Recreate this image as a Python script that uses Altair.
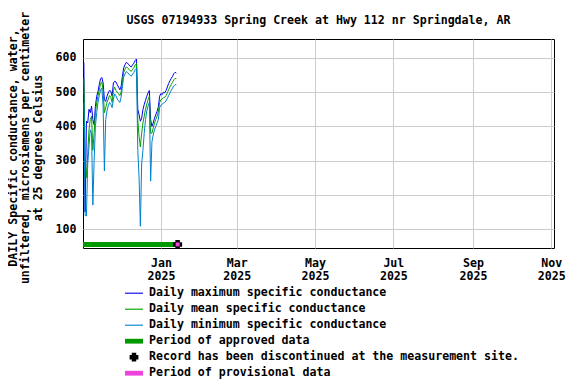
import altair as alt
import pandas as pd

FONT = "DejaVu Sans Mono"
FS = 11.6

# ---- data ----
dates = list(pd.date_range("2024-11-02", periods=73, freq="D").strftime("%Y-%m-%dT00:00:00Z"))

max_vals = [587, 150, 415, 410, 450, 440, 459, 420, 405, 459, 488,
            502, 522, 539, 543,
            527, 478, 473, 488, 498, 505, 503, 488, 527, 532, 530, 522, 515, 507, 517,
            546, 571, 580, 587, 585, 580, 576, 574, 580, 585, 593, 597,
            450, 434, 415, 424, 449, 464, 476, 488, 498, 505,
            420, 400, 410, 424, 434, 444, 457,
            488, 496, 493, 500, 498, 505, 515, 525, 533, 540, 546, 554, 558, 556]
mean_vals = [540, 300, 250, 320, 390, 420, 430, 330, 380, 440, 470,
             488, 507, 525, 530,
             505, 440, 455, 470, 480, 490, 485, 470, 505, 515, 505, 500, 495, 490, 500,
             530, 558, 567, 574, 572, 567, 563, 561, 567, 572, 580, 584,
             420, 370, 340, 380, 410, 430, 450, 465, 478, 488,
             380, 380, 395, 410, 420, 430, 442,
             470, 478, 480, 484, 485, 490, 498, 507, 515, 522, 529, 536, 540, 540]
min_vals = [470, 140, 138, 290, 340, 390, 380, 170, 300, 400, 440,
            470, 490, 507, 512,
            460, 270, 420, 445, 460, 470, 465, 455, 480, 495, 490, 480, 475, 470, 485,
            515, 544, 553, 560, 558, 553, 549, 547, 553, 558, 566, 570,
            330, 250, 108, 290, 330, 380, 420, 445, 460, 470,
            240, 355, 375, 390, 400, 410, 420,
            455, 462, 465, 468, 470, 475, 482, 490, 497, 505, 512, 518, 522, 522]

approved_start = ["2024-11-01T00:00:00Z"]
approved_end = ["2025-01-13T12:00:00Z"]
discontinued_date = ["2025-01-14T00:00:00Z"]
marker_level = [55]

title_text = "USGS 07194933 Spring Creek at Hwy 112 nr Springdale, AR"
series_names = [
    "Daily maximum specific conductance",
    "Daily mean specific conductance",
    "Daily minimum specific conductance",
    "Period of approved data",
    "Record has been discontinued at the measurement site.",
    "Period of provisional data",
]
series_colors = ["#0000ee", "#00a000", "#0080d0", "#009900", "#000000", "#ee44dd"]
line_sym = "M-1.125,-0.07L1.125,-0.07L1.125,0.07L-1.125,0.07Z"
bar_sym = "M-1.125,-0.3L1.125,-0.3L1.125,0.3L-1.125,0.3Z"
plus_sym = ("M-0.28,-0.55L0.28,-0.55L0.28,-0.28L0.55,-0.28L0.55,0.28L0.28,0.28L0.28,0.55"
            "L-0.28,0.55L-0.28,0.28L-0.55,0.28L-0.55,-0.28L-0.28,-0.28Z")
legend_shapes = [line_sym, line_sym, line_sym, bar_sym, plus_sym, bar_sym]
marker_plus = ("M-0.5,-1L0.5,-1L0.5,-0.5L1,-0.5L1,0.5L0.5,0.5L0.5,1L-0.5,1L-0.5,0.5"
               "L-1,0.5L-1,-0.5L-0.5,-0.5Z")

y_ticks = [100, 200, 300, 400, 500, 600]
x_ticks = [alt.DateTime(year=2025, month=m, date=1, utc=True) for m in [1, 3, 5, 7, 9, 11]]
y_title = ["DAILY Specific conductance, water,",
           "unfiltered, microsiemens per centimeter",
           "at 25 degrees Celsius"]

# ---- encodings ----
x_scale = alt.Scale(type="utc", nice=False,
                    domain=[alt.DateTime(year=2024, month=11, date=1, hours=8, utc=True),
                            alt.DateTime(year=2025, month=11, date=3, hours=2, utc=True)])
y_scale = alt.Scale(domain=[44.5, 655.5], nice=False, zero=False)

x_axis = alt.Axis(values=x_ticks, grid=True, gridColor="#cccccc", ticks=False, domain=False,
                  labelExpr="[utcFormat(datum.value, '%b'), utcFormat(datum.value, '%Y')]",
                  labelFont=FONT, labelFontSize=FS, labelFontWeight="bold", labelColor="black",
                  labelAlign="center", labelBaseline="alphabetic", labelPadding=18.5,
                  labelLineHeight=12.5, labelFlush=False, labelOverlap=False, title=None)
y_axis = alt.Axis(values=y_ticks, grid=True, gridColor="#cccccc", ticks=False, domain=False,
                  labelFont=FONT, labelFontSize=FS, labelFontWeight="bold", labelColor="black",
                  labelPadding=7, title=y_title, titleFont=FONT, titleFontSize=FS,
                  titleFontWeight="bold", titleColor="black", titleAngle=270, titleX=-67,
                  titleY=108.5, titleAlign="center", titleBaseline="alphabetic",
                  titleLineHeight=12.5)

X = alt.X("date:T", scale=x_scale, axis=x_axis)
Y = alt.Y("value:Q", scale=y_scale, axis=y_axis)

def line_layer(vals, color):
    df = pd.DataFrame({"date": dates, "value": vals})
    return alt.Chart(df).mark_line(color=color, strokeWidth=1).encode(x=X, y=Y)

max_line = line_layer(max_vals, series_colors[0])
mean_line = line_layer(mean_vals, series_colors[1])
min_line = line_layer(min_vals, series_colors[2])

approved = alt.Chart(pd.DataFrame({"date": approved_start, "date2": approved_end,
                                   "value": marker_level})).mark_rule(
    color=series_colors[3], strokeWidth=5, clip=True).encode(x=X, x2="date2:T", y=Y)

disc = alt.Chart(pd.DataFrame({"date": discontinued_date, "value": marker_level})).mark_point(
    shape=marker_plus, filled=True, size=81, color="black", opacity=1).encode(x=X, y=Y)
prov = alt.Chart(pd.DataFrame({"date": discontinued_date, "value": marker_level})).mark_point(
    shape="square", filled=True, size=16, color=series_colors[5], opacity=1).encode(x=X, y=Y)

leg = dict(title=None, orient="none", legendX=43, legendY=246.2,
           direction="vertical", symbolSize=256,
           symbolStrokeWidth=0, labelFont=FONT, labelFontSize=FS,
           labelFontWeight="bold", labelColor="black",
           labelOffset=7, rowPadding=2, labelLimit=600,
           padding=0, symbolOpacity=1)

legend_layer = alt.Chart(alt.Data(values=[{"series": s} for s in series_names])).mark_point(
    filled=True).encode(
    x=X, y=Y,
    color=alt.Color("series:N", scale=alt.Scale(domain=series_names, range=series_colors),
                    legend=alt.Legend(**leg)),
    shape=alt.Shape("series:N", scale=alt.Scale(domain=series_names, range=legend_shapes),
                    legend=alt.Legend(**leg)),
)

title_layer = alt.Chart(pd.DataFrame({"t": [title_text]})).mark_text(
    font=FONT, fontSize=FS, fontWeight="bold", color="black", align="center",
    baseline="alphabetic").encode(text="t:N", x=alt.value(235.5), y=alt.value(-15))

chart = alt.layer(legend_layer, max_line, mean_line, min_line, approved, disc, prov,
                  title_layer).properties(
    width=471, height=209,
    autosize=alt.AutoSizeParams(type="none"),
    padding={"left": 75, "top": 31, "right": 14, "bottom": 134},
    background="white",
).configure_view(stroke="black", strokeWidth=1)

chart.save("out.html", embed_options={"renderer": "svg", "actions": False})
